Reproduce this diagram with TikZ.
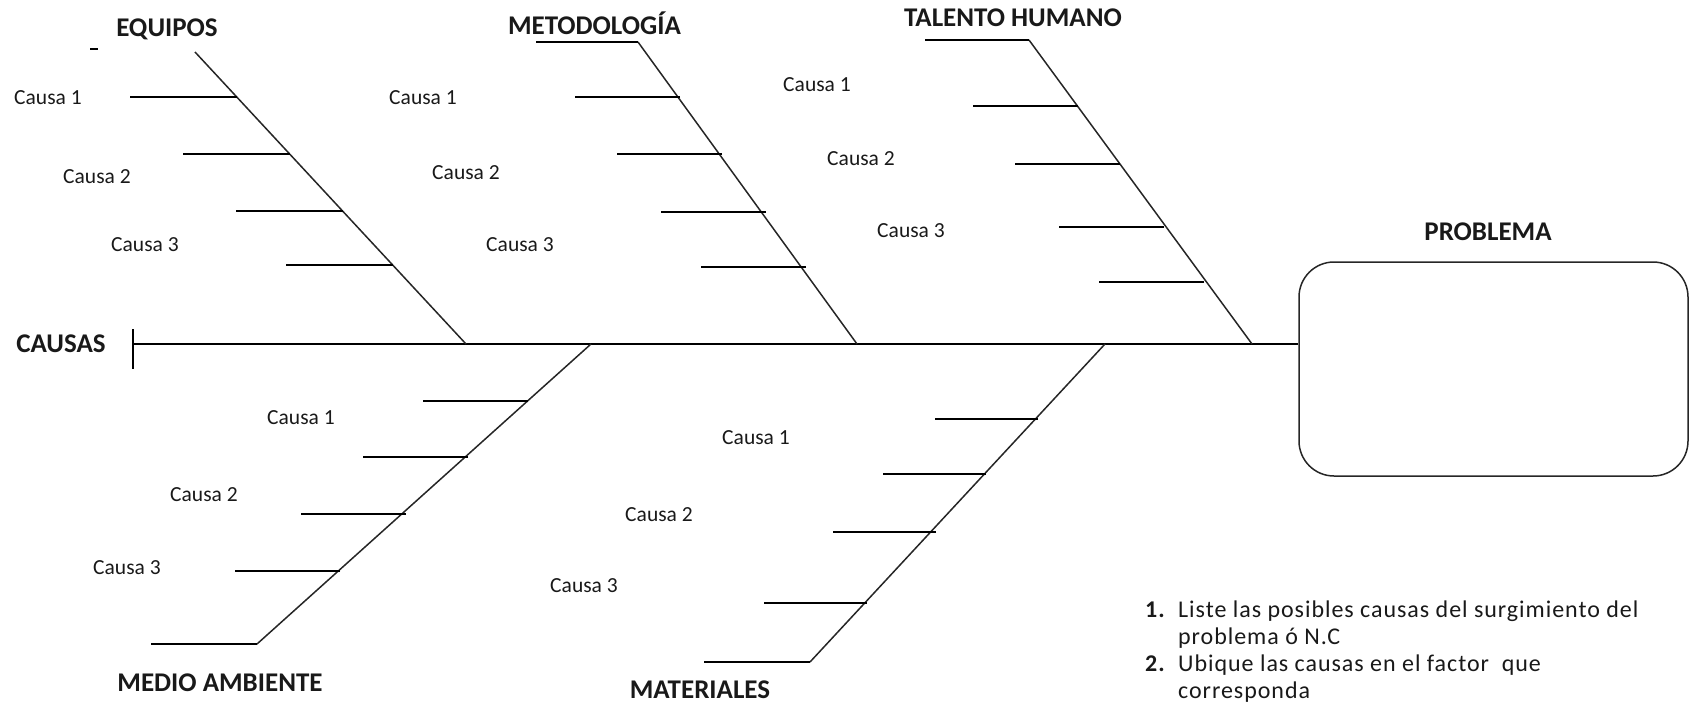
\documentclass[tikz,border=0pt]{standalone}
\usepackage{fontspec}
\setmainfont{Carlito}
\newfontfamily\listfont[LetterSpace=4]{Carlito}
\usetikzlibrary{calc}
\tikzset{
  bone/.style={draw=black!85, line width=1.5pt},
  rib/.style={draw=black, line width=1.6pt},
  cat/.style={font=\fontsize{27}{30}\selectfont\bfseries, inner sep=0pt, text=black!90},
  cause/.style={font=\fontsize{21.5}{24}\selectfont, inner sep=0pt, text=black!90},
  probbox/.style={draw=black!85, line width=1.5pt, rounded corners=35pt, minimum width=389pt, minimum height=214pt, inner sep=0pt},
  listtext/.style={font=\listfont\fontsize{24}{27}\selectfont, inner sep=0pt, align=left, text=black!90}
}
\begin{document}
\begin{tikzpicture}[x=1pt,y=-1pt]
\useasboundingbox (0,0) rectangle (1690,704);

% problem box
\node[probbox] (prob) at (1493.5,369) {};
\node[cat] (problab) at (1488,232) {PROBLEMA};

% spine
\coordinate (s0) at (133,344);
\coordinate (sT) at (133,329);
\coordinate (sB) at (133,369);
\draw[rib] (s0) -- (s0 -| prob.west);
\draw[rib] (sT) -- (sB);
\node[cat] (causas) at (61,344) {CAUSAS};

% ---------------- EQUIPOS
\coordinate (eqT) at (195,52);
\coordinate (eqB) at (466,344);
\draw[bone] (eqT) -- (eqB);
\coordinate (eqdA) at (90,49);
\coordinate (eqdB) at (98,49);
\draw[rib] (eqdA) -- (eqdB);
\coordinate (e1) at (237,97);
\coordinate (e2) at (290,154);
\coordinate (e3) at (343,211);
\coordinate (e4) at (393,265);
\foreach \c in {e1,e2,e3,e4} \draw[rib] (\c) -- ++(-107,0);
\node[cat] (equipos) at (167,29) {EQUIPOS};
\node[cause] (eqc1) at (48,98) {Causa 1};
\node[cause] (eqc2) at (97,177) {Causa 2};
\node[cause] (eqc3) at (145,245) {Causa 3};

% ---------------- METODOLOGIA
\coordinate (metT) at (638,42);
\coordinate (metB) at (857,344);
\coordinate (metH) at (536,42);
\draw[bone] (metT) -- (metB);
\draw[rib] (metH) -- (metT);
\coordinate (m1) at (680,97);
\coordinate (m2) at (722,154);
\coordinate (m3) at (766,212);
\coordinate (m4) at (806,267);
\foreach \c in {m1,m2,m3,m4} \draw[rib] (\c) -- ++(-105,0);
\node[cat] (metodo) at (594.5,23) {METODOLOGÍA};
\node[cause] (mc1) at (423,98) {Causa 1};
\node[cause] (mc2) at (466,173) {Causa 2};
\node[cause] (mc3) at (520,245) {Causa 3};

% ---------------- TALENTO HUMANO
\coordinate (talT) at (1029,40);
\coordinate (talB) at (1252,344);
\coordinate (talH) at (925,40);
\draw[bone] (talT) -- (talB);
\draw[rib] (talH) -- (talT);
\coordinate (t1) at (1078,106);
\coordinate (t2) at (1120,164);
\coordinate (t3) at (1164,227);
\coordinate (t4) at (1204,282);
\foreach \c in {t1,t2,t3,t4} \draw[rib] (\c) -- ++(-105,0);
\node[cat] (talento) at (1013,18) {TALENTO HUMANO};
\node[cause] (tc1) at (817,85) {Causa 1};
\node[cause] (tc2) at (861,159) {Causa 2};
\node[cause] (tc3) at (911,231) {Causa 3};

% ---------------- MEDIO AMBIENTE
\coordinate (medT) at (591,344);
\coordinate (medB) at (257,644);
\coordinate (medH) at (151,644);
\draw[bone] (medT) -- (medB);
\draw[rib] (medB) -- (medH);
\coordinate (d1) at (528,401);
\coordinate (d2) at (468,457);
\coordinate (d3) at (406,514);
\coordinate (d4) at (340,571);
\foreach \c in {d1,d2,d3,d4} \draw[rib] (\c) -- ++(-105,0);
\node[cat] (medio) at (220,683) {MEDIO AMBIENTE};
\node[cause] (dc1) at (301,418) {Causa 1};
\node[cause] (dc2) at (204,495) {Causa 2};
\node[cause] (dc3) at (127,568) {Causa 3};

% ---------------- MATERIALES
\coordinate (matT) at (1105,344);
\coordinate (matB) at (810,662);
\coordinate (matH) at (704,662);
\draw[bone] (matT) -- (matB);
\draw[rib] (matB) -- (matH);
\coordinate (a1) at (1038,419);
\coordinate (a2) at (986,474);
\coordinate (a3) at (936,532);
\coordinate (a4) at (867,603);
\foreach \c in {a1,a2,a3,a4} \draw[rib] (\c) -- ++(-103,0);
\node[cat] (materiales) at (700,690) {MATERIALES};
\node[cause] (ac1) at (756,438) {Causa 1};
\node[cause] (ac2) at (659,515) {Causa 2};
\node[cause] (ac3) at (584,586) {Causa 3};

% ---------------- instructions
\node[listtext, anchor=north west] (list) at (1145,601)
 {\makebox[33pt][l]{\bfseries 1.}Liste las posibles causas del surgimiento del\\
  \hspace*{33pt}problema ó N.C\\
  \makebox[33pt][l]{\bfseries 2.}Ubique las causas en el factor\ \ que\\
  \hspace*{33pt}corresponda};
\end{tikzpicture}
\end{document}
